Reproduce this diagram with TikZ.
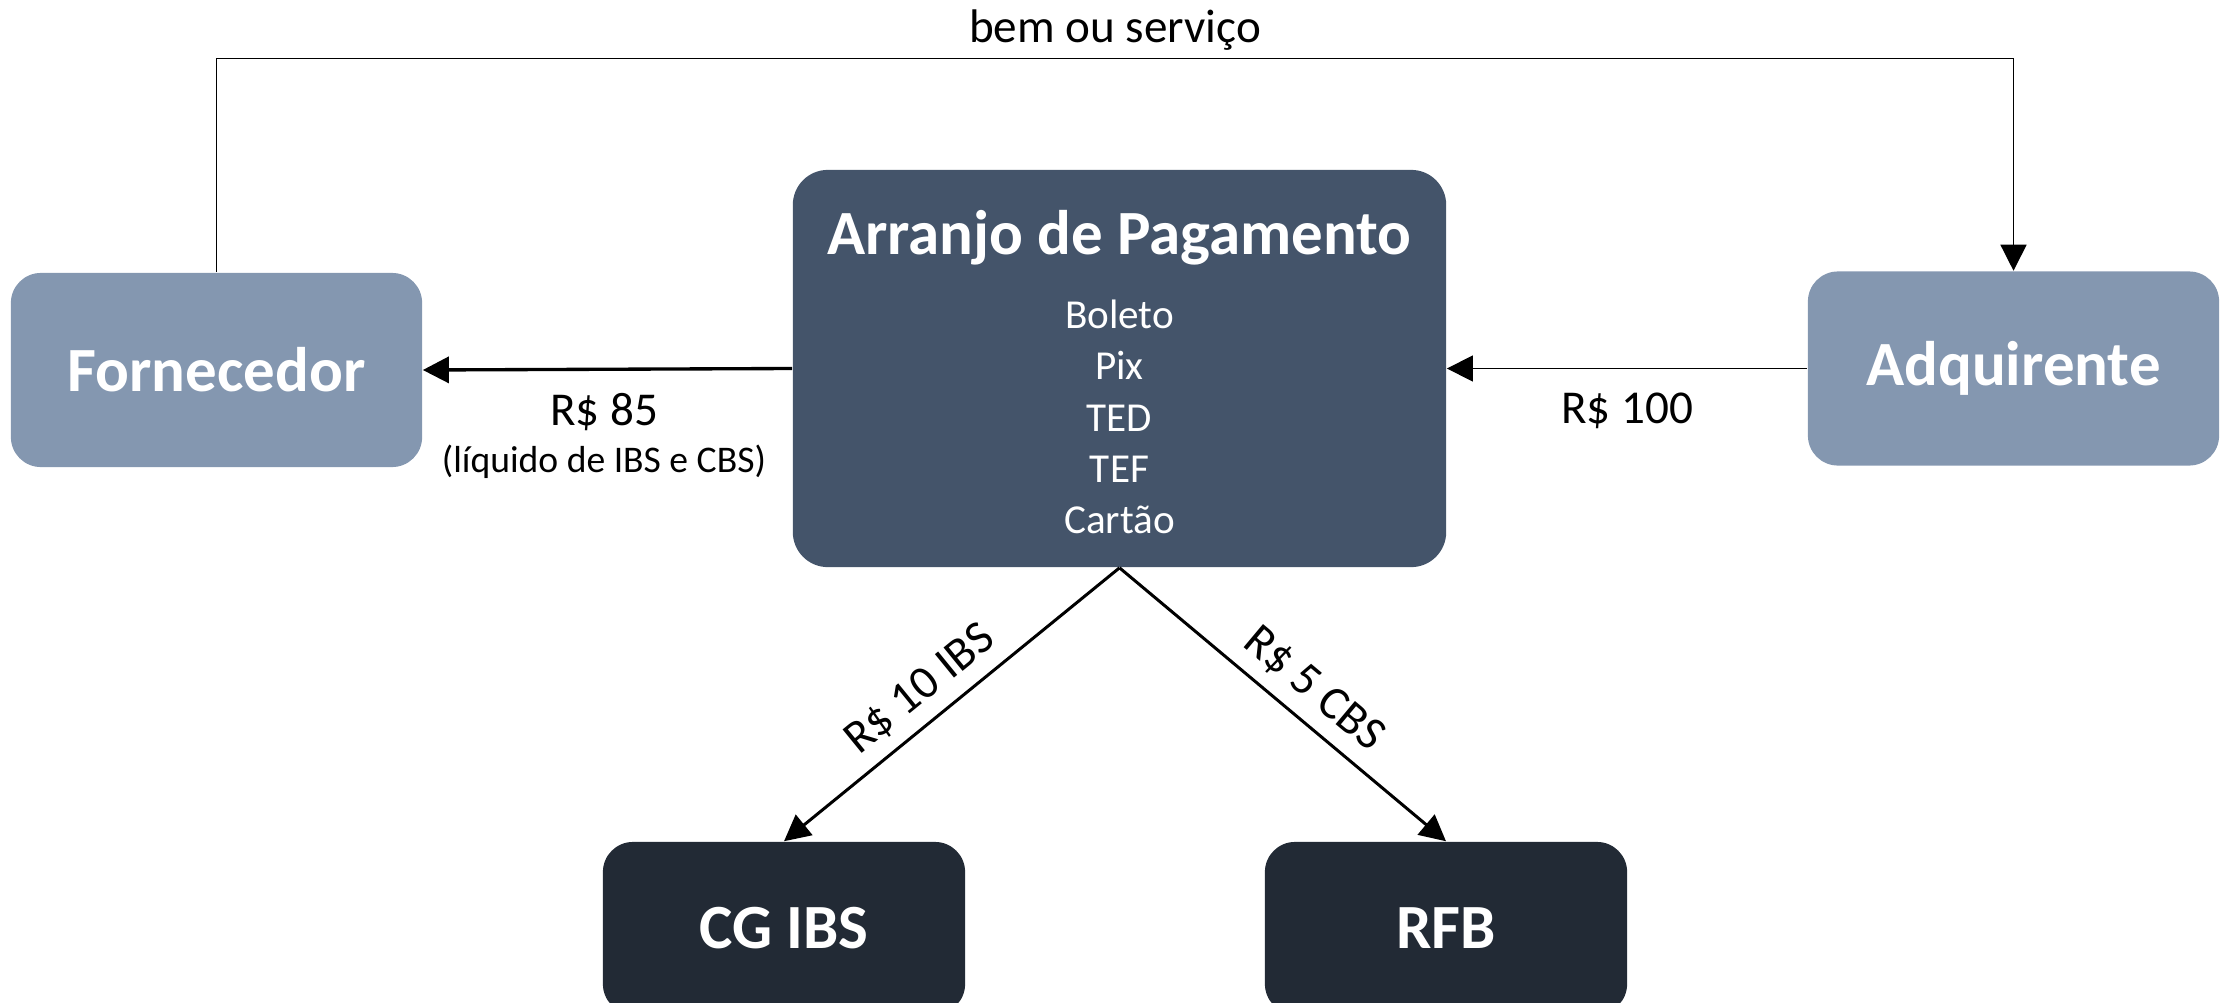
\documentclass[tikz,border=0pt]{standalone}
\usepackage{fontspec}
\setmainfont{Carlito}
\usetikzlibrary{arrows.meta}
\definecolor{partyblue}{HTML}{8497B0}
\definecolor{hubblue}{HTML}{44546A}
\definecolor{nightblue}{HTML}{222A35}
\tikzset{
  party/.style={fill=partyblue, rounded corners=0.3cm, minimum width=4.11cm,
    minimum height=1.94cm, inner sep=0pt, text=white,
    font=\fontsize{17.9}{21}\selectfont\bfseries},
  taxbody/.style={party, fill=nightblue, minimum width=3.62cm, minimum height=1.72cm},
  payhub/.style={fill=hubblue, rounded corners=0.35cm, minimum width=6.53cm,
    minimum height=3.97cm, inner sep=0pt},
  money/.style={font=\fontsize{13.4}{16}\selectfont},
  flow/.style={-{Triangle[length=7.4pt,width=7.4pt]}, line width=0.4pt},
}
\begin{document}
\begin{tikzpicture}[x=0.01cm,y=-0.01cm]
\useasboundingbox (0,0) rectangle (2221,1003);
% boxes
\node[party] (fornecedor) at (216.5,370) {Fornecedor};
\node[party] (adquirente) at (2013.5,368.5) {Adquirente};
\node[payhub] (arranjo) at (1119.5,368.5) {};
\node[anchor=base, text=white, font=\fontsize{17.9}{21}\selectfont\bfseries] (arranjotitle) at (1119.5,254) {Arranjo de Pagamento};
\node[align=center, text=white, inner sep=0pt, font=\fontsize{11.7}{14.6}\selectfont] (meios) at (1119.5,417) {Boleto\\Pix\\TED\\TEF\\Cartão};
\node[taxbody] (cgibs) at (784,928) {CG IBS};
\node[taxbody] (rfb) at (1446,928) {RFB};
% flows
\draw[flow] (fornecedor.north) -- ++(0,-214) -| (adquirente.north);
\node[money, anchor=base] (bem) at (1115,42) {bem ou serviço};
\draw[flow, line width=0.95pt] (arranjo.west) -- (fornecedor.east);
\node[money, anchor=base] (r85) at (604,425) {R\$ 85};
\node[anchor=base, font=\fontsize{10.7}{13}\selectfont] (liquido) at (604,472) {(líquido de IBS e CBS)};
\draw[flow] (adquirente.west) -- (arranjo.east);
\node[money, anchor=base] (r100) at (1627,423) {R\$ 100};
\draw[flow, line width=0.85pt] (arranjo.south) -- node[money, sloped, above, pos=0.535, inner sep=3.5pt] (ibs) {R\$ 10 IBS} (cgibs.north);
\draw[flow, line width=0.85pt] (arranjo.south) -- node[money, sloped, above, pos=0.533, inner sep=3.5pt] (cbs) {R\$ 5 CBS} (rfb.north);
\end{tikzpicture}
\end{document}
